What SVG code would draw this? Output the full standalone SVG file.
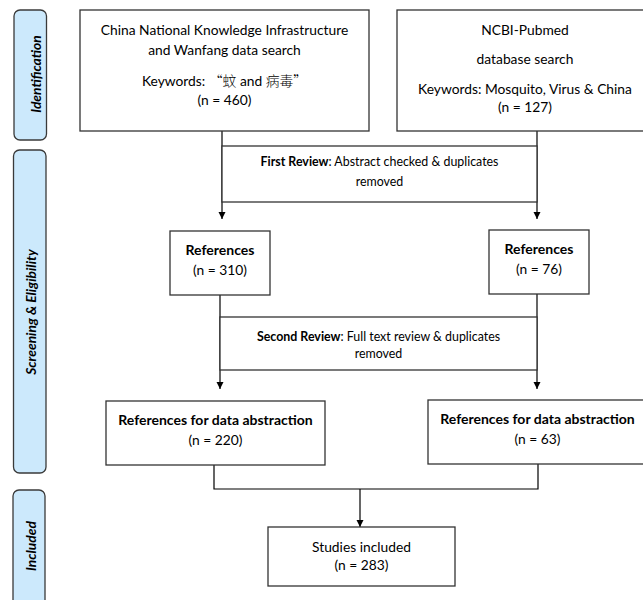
<svg xmlns="http://www.w3.org/2000/svg" width="643" height="600" viewBox="0 0 643 600">
<defs>
<style>
.bar{fill:#cce9fc;stroke:#3a3a3a;stroke-width:1.3}
.bt{font-family:Lato,"Liberation Sans","Noto Sans CJK SC",sans-serif;font-size:13.8px;font-weight:bold;font-style:italic;fill:#000;text-anchor:middle}
.box{fill:#fff;stroke:#333;stroke-width:1.3}
.t{font-family:Lato,"Liberation Sans","Noto Sans CJK SC",sans-serif;font-size:13.8px;fill:#000;text-anchor:middle}
.s{font-size:12.4px}
.b{font-weight:bold}
.bb{font-size:14px}
.cjk{font-family:"Noto Sans CJK SC",sans-serif;font-weight:300}
.c{fill:none;stroke:#000;stroke-width:1.2}
</style>
<marker id="ah" markerWidth="8" markerHeight="8" refX="7" refY="4" orient="auto" markerUnits="userSpaceOnUse">
<path d="M0,0.5 L7,4 L0,7.5 Z" fill="#000"/>
</marker>
</defs>
<rect width="643" height="600" fill="#fff"/>

<g id="stage-identification">
<rect class="bar" x="14" y="10" width="32.5" height="130" rx="6"/>
<text class="bt" transform="translate(40.5,74) rotate(-90)">Identification</text>
</g>
<g id="stage-screening">
<rect class="bar" x="13.5" y="150" width="32.5" height="323" rx="6"/>
<text class="bt" transform="translate(35.5,312) rotate(-90)">Screening &amp; Eligibility</text>
</g>
<g id="stage-included">
<rect class="bar" x="13" y="490" width="32" height="130" rx="6"/>
<text class="bt" transform="translate(36,546) rotate(-90)">Included</text>
</g>

<g id="connectors">
<path class="c" d="M222,131 V219" marker-end="url(#ah)"/>
<path class="c" d="M537,131 V219" marker-end="url(#ah)"/>
<path class="c" d="M220,295 V389" marker-end="url(#ah)"/>
<path class="c" d="M537,294 V389" marker-end="url(#ah)"/>
<path class="c" d="M214,465 V489 H538 V464"/>
<path class="c" d="M360,489 V527" marker-end="url(#ah)"/>
</g>

<g id="cnki">
<rect class="box" x="80" y="10" width="289" height="121"/>
<text class="t" x="224.5" y="35">China National Knowledge Infrastructure</text>
<text class="t" x="224.5" y="55">and Wanfang data search</text>
<text class="t" x="224.5" y="86">Keywords: <tspan class="cjk">“蚊</tspan> and <tspan class="cjk">病毒”</tspan></text>
<text class="t" x="224.5" y="105">(n = 460)</text>
</g>

<g id="pubmed">
<rect class="box" x="397" y="10" width="256" height="121"/>
<text class="t" x="525" y="35">NCBI-Pubmed</text>
<text class="t" x="525" y="64">database search</text>
<text class="t" x="525" y="94">Keywords: Mosquito, Virus &amp; China</text>
<text class="t" x="525" y="112">(n = 127)</text>
</g>

<g id="first-review">
<rect class="box" x="222" y="146" width="315" height="56"/>
<text class="t s" x="379.5" y="166"><tspan class="b">First Review</tspan>: Abstract checked &amp; duplicates</text>
<text class="t s" x="379.5" y="186">removed</text>
</g>

<g id="refs-left">
<rect class="box" x="170" y="231" width="100" height="64"/>
<text class="t b bb" x="220" y="255">References</text>
<text class="t" x="220" y="275">(n = 310)</text>
</g>

<g id="refs-right">
<rect class="box" x="489" y="230" width="100" height="64"/>
<text class="t b bb" x="539" y="254">References</text>
<text class="t" x="539" y="274">(n = 76)</text>
</g>

<g id="second-review">
<rect class="box" x="220" y="317" width="317" height="53"/>
<text class="t s" x="378.5" y="341"><tspan class="b">Second Review</tspan>: Full text review &amp; duplicates</text>
<text class="t s" x="378.5" y="358">removed</text>
</g>

<g id="abs-left">
<rect class="box" x="106" y="401" width="219" height="64"/>
<text class="t b bb" x="215.5" y="425">References for data abstraction</text>
<text class="t" x="215.5" y="445">(n = 220)</text>
</g>

<g id="abs-right">
<rect class="box" x="428" y="400" width="219" height="64"/>
<text class="t b bb" x="537.5" y="424">References for data abstraction</text>
<text class="t" x="537.5" y="444">(n = 63)</text>
</g>

<g id="included">
<rect class="box" x="268" y="527" width="187" height="59"/>
<text class="t" x="361.5" y="552">Studies included</text>
<text class="t" x="361.5" y="570">(n = 283)</text>
</g>
</svg>
